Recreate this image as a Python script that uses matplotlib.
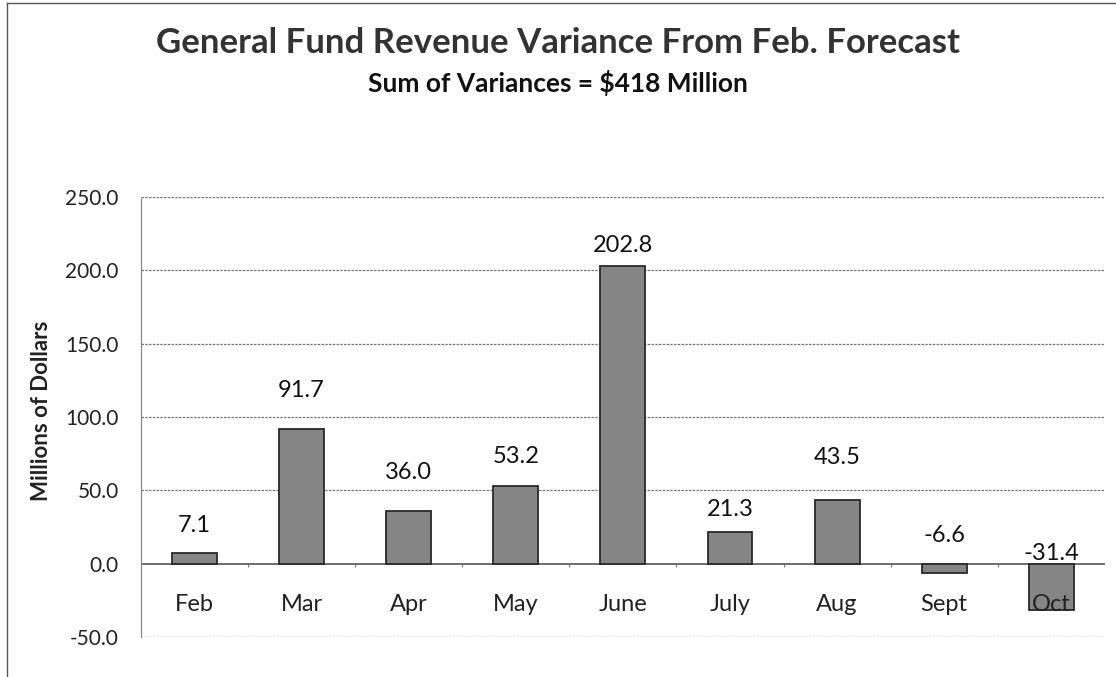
import numpy as np
import matplotlib.pyplot as plt
from matplotlib.lines import Line2D

months = ['Feb', 'Mar', 'Apr', 'May', 'June', 'July', 'Aug', 'Sept', 'Oct']
variance = [7.1, 91.7, 36.0, 53.2, 202.8, 21.3, 43.5, -6.6, -31.4]
yticks = [-50, 0, 50, 100, 150, 200, 250]

# label offsets (pixels above bar top / zero line), as placed in the original
label_offset = [28, 39, 38, 29, 21, 23, 42, 28, 10]

plt.rcParams['font.family'] = ['Lato', 'DejaVu Sans']

fig = plt.figure(figsize=(11.16, 6.77), dpi=100)
ax = fig.add_axes([0.1263, 0.059, 0.8637, 0.650])

x = np.arange(len(months))
ax.bar(x, variance, width=0.42, color='#858585', edgecolor='#2a2a2a', linewidth=1.3, zorder=3)

ax.set_xlim(-0.5, len(months) - 0.5)
ax.set_ylim(-50, 250)
ax.set_yticks(yticks)
ax.set_yticklabels([f'{v:.1f}' for v in yticks], fontsize=15, color='#222222')
ax.tick_params(axis='y', length=0, pad=16)
ax.set_xticks([])

# gridlines
for v in yticks:
    if v == 0:
        ax.axhline(v, color='#555555', linewidth=1.2, zorder=2)
    else:
        ax.axhline(v, color='#777777', linewidth=0.9, linestyle=(0, (2, 1)), zorder=1)

# small tick marks on the zero line between categories
ax.vlines(x[:-1] + 0.5, -2.5, 0, color='#777777', linewidth=0.8)

for side in ['top', 'right', 'bottom']:
    ax.spines[side].set_visible(False)
ax.spines['left'].set_color('#888888')
ax.spines['left'].set_linestyle((0, (1, 1)))
ax.spines['left'].set_linewidth(0.9)

# category labels sit below the zero line
for xi, m in zip(x, months):
    ax.text(xi, -28, m, ha='center', va='center', fontsize=17, color='#222222', zorder=4)

# value labels
for xi, v, off in zip(x, variance, label_offset):
    base = max(v, 0)
    ax.annotate(f'{v:.1f}', (xi, base), xytext=(0, off), textcoords='offset pixels',
                ha='center', va='center', fontsize=17, color='#111111', zorder=5)

ax.set_ylabel('Millions of Dollars', fontsize=16, fontweight='bold', color='#222222')
ax.yaxis.set_label_coords(-0.092, 0.514)

fig.text(0.5, 0.936, 'General Fund Revenue Variance From Feb. Forecast',
         ha='center', va='center', fontsize=25, fontweight='bold', color='#333333')
fig.text(0.5, 0.877, 'Sum of Variances = $418 Million',
         ha='center', va='center', fontsize=19, fontweight='bold', color='#111111')

# chart frame (left and top edges visible in the scan)
fig.add_artist(Line2D([0.006, 0.006], [0, 0.996], transform=fig.transFigure, color='#555555', linewidth=1))
fig.add_artist(Line2D([0.006, 1.0], [0.996, 0.996], transform=fig.transFigure, color='#555555', linewidth=1))

fig.savefig('out.png', dpi=100)
